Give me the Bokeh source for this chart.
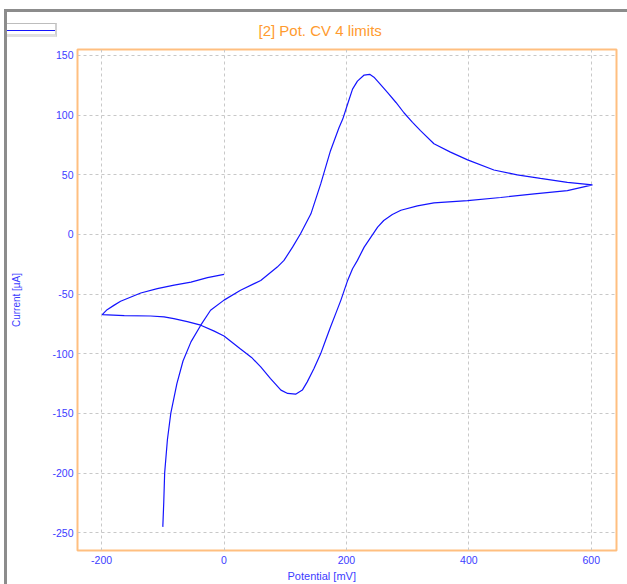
from bokeh.plotting import figure
from bokeh.models import Range1d, Title, FixedTicker, Div
from bokeh.layouts import column
from bokeh.embed import file_html
from bokeh.resources import INLINE

# Potential (mV) and current (uA), in scan order
potential_mV = [0, -27, -54, -81.5, -109, -136, -152, -169, -180, -191, -199,
                -163, -120, -98, -82, -60, -38, -16, 0, 27, 45, 60, 76, 93, 104, 117, 128, 136,
                147, 158, 166, 174, 182.5, 191, 202, 210, 218, 229, 240, 251, 261, 275, 289,
                316, 343, 398, 452, 507, 561, 602,
                561, 517, 479, 441, 398, 370, 343, 321, 308, 294, 281, 267, 253, 245, 238, 229,
                218, 210, 202, 194, 188, 174, 158, 142, 125, 112, 98, 87, 60, 27, 0, -22,
                -38, -54, -67, -77, -87, -92.5, -97, -98.5, -100]
current_uA = [-33.4, -36.2, -39.9, -42.4, -45.4, -49, -52.4, -56, -59.4, -63, -67.2,
              -68, -68.3, -69, -70.5, -73, -76, -81, -85, -96, -103, -111, -120.7, -130.4, -133.2, -133.8, -130.4, -123.5,
              -112.3, -99.8, -88.6, -77.5, -66.3, -55, -38.5, -28.7, -21.7, -10.6, -2.2, 6.1, 11.7, 16.7, 20.3,
              24, 26.5, 28.4, 31, 34, 36.8, 41.5,
              43.7, 47, 50, 54, 62.5, 69, 76, 87, 94, 102, 110.6, 119, 127.3, 131.8, 134.2, 133.6,
              128.5, 121.8, 109.3, 96.7, 89.7, 70.2, 42.4, 17.3, 0.6, -10.6, -21.7, -27.3, -38.5, -46.8, -55, -63.5,
              -76, -90, -106, -125, -150, -172, -200, -225, -245]

x_ticks = [-200, 0, 200, 400, 600]
y_ticks = [-250, -200, -150, -100, -50, 0, 50, 100, 150]

title_text = "[2] Pot. CV 4 limits"
x_label = "Potential [mV]"
y_label = "Current [µA]"

FONT = "Liberation Sans"
BLUE_TXT = "#3c3cff"

p = figure(width=620, height=584, output_backend="svg", toolbar_location=None,
           x_range=Range1d(-239.4, 641.3), y_range=Range1d(-264.8, 155.0),
           min_border_left=70, min_border_right=11, min_border_top=49, min_border_bottom=34)
p.styles = {"margin-left": "7px"}

p.outline_line_color = "#ffbf80"
p.outline_line_width = 2
p.background_fill_color = "white"
p.border_fill_color = "white"

for ax in (p.xaxis[0], p.yaxis[0]):
    ax.axis_line_color = None
    ax.major_tick_line_color = None
    ax.minor_tick_line_color = None
    ax.major_tick_out = 0
    ax.major_tick_in = 0
    ax.major_label_text_color = BLUE_TXT
    ax.major_label_text_font = FONT
    ax.major_label_text_font_size = "10.5px"

p.xaxis[0].ticker = FixedTicker(ticks=x_ticks)
p.yaxis[0].ticker = FixedTicker(ticks=y_ticks)
p.xaxis[0].major_label_overrides = {t: str(t) for t in x_ticks}
p.yaxis[0].major_label_overrides = {t: str(t) for t in y_ticks}
p.xaxis[0].major_label_standoff = 5
p.yaxis[0].major_label_standoff = 4

p.yaxis[0].axis_label = y_label
p.yaxis[0].axis_label_text_color = BLUE_TXT
p.yaxis[0].axis_label_text_font = FONT
p.yaxis[0].axis_label_text_font_size = "10px"
p.yaxis[0].axis_label_text_font_style = "normal"
p.yaxis[0].axis_label_standoff = 27

p.xgrid[0].ticker = FixedTicker(ticks=x_ticks)
p.ygrid[0].ticker = FixedTicker(ticks=y_ticks)
for g in (p.xgrid[0], p.ygrid[0]):
    g.grid_line_color = "#c8c8c8"
    g.grid_line_dash = "3 3"
    g.grid_line_width = 1

p.title.text = title_text
p.title.text_color = "#ff9b2f"
p.title.text_font = FONT
p.title.text_font_size = "15px"
p.title.text_font_style = "normal"
p.title.align = "left"
p.title.offset = 181
p.title.standoff = 21

xt = Title(text=x_label, text_color=BLUE_TXT, text_font=FONT, text_font_size="11px",
           text_font_style="normal", align="left", offset=210, standoff=3)
p.add_layout(xt, "below")

p.line(potential_mV, current_uA, line_color="#1414ff", line_width=1.2)

# gray window frame lines (top and left)
frame_top = Div(text="", width=623, height=3, margin=0,
                styles={"position": "absolute", "left": "4px", "top": "9px",
                        "background": "#8c8c8c"})
frame_left = Div(text="", width=3, height=575, margin=0,
                 styles={"position": "absolute", "left": "4px", "top": "9px",
                         "background": "#8c8c8c"})

# small legend box at the top-left corner (series line sample, no label)
legend_box = Div(text="", width=50, height=14, margin=0,
                 styles={"position": "absolute", "left": "7px", "top": "23px",
                         "box-sizing": "border-box",
                         "background": "linear-gradient(to bottom, #ffffff 6px, #1414ff 6px, "
                                       "#1414ff 7.2px, #ffffff 7.2px)",
                         "border-top": "1px solid #bdbdbd", "border-right": "2px solid #d0d0d0",
                         "border-bottom": "3px solid #e0e0e0"})

layout = column(p, frame_top, frame_left, legend_box)
open("out.html", "w").write(file_html(layout, INLINE))
